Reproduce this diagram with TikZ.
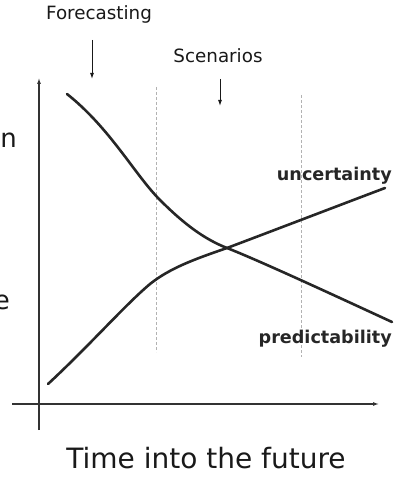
\documentclass[tikz,border=0pt]{standalone}
\usepackage{fontspec}
\setmainfont{DejaVu Sans}
\usetikzlibrary{arrows.meta}
\begin{document}
\begin{tikzpicture}[x=1pt,y=-1pt,
  axis/.style={line width=1.1pt,draw=black!80,-{Latex[length=6pt,width=4pt]}},
  small/.style={font=\fontsize{18.3}{21}\selectfont,text=black!90,inner sep=0pt},
  tag/.style={font=\fontsize{17.6}{21}\bfseries\selectfont,text=black!85,inner sep=0pt},
  curve/.style={line width=2.6pt,draw=black!85,line cap=round},
  guide/.style={draw=black!30,line width=0.8pt,dash pattern=on 3pt off 2pt},
  pointer/.style={line width=1pt,draw=black!90,-{Latex[length=6pt,width=4pt]}}]
\useasboundingbox (0,0) rectangle (405,478);
% axes
\coordinate (yb) at (39,430);
\coordinate (yt) at (39,78);
\coordinate (xl) at (12,404);
\coordinate (xr) at (379,404);
\draw[axis] (yb) -- (yt);
\draw[axis] (xl) -- (xr);
% guides
\coordinate (g1t) at (156,87); \coordinate (g1b) at (156,352);
\coordinate (g2t) at (301,95); \coordinate (g2b) at (301,357);
\draw[guide] (g1t) -- (g1b);
\draw[guide] (g2t) -- (g2b);
% labels
\node[small] (fc) at (99,14) {Forecasting};
\node[small] (sc) at (218,56) {Scenarios};
\coordinate (fca) at (92,40); \coordinate (fcb) at (92,79);
\coordinate (sca) at (220,79); \coordinate (scb) at (220,106);
\draw[pointer] (fca) -- (fcb);
\draw[pointer] (sca) -- (scb);
% curves
\coordinate (p0) at (67,94); \coordinate (p1) at (160,200);
\coordinate (cx) at (227,248); \coordinate (p2) at (392,322);
\coordinate (u0) at (48,384); \coordinate (u1) at (150,284);
\coordinate (u2) at (385,188);
\draw[curve] (p0) .. controls (110,128) and (135,175) .. (p1)
  .. controls (185,225) and (205,239.4) .. (cx)
  .. controls (260,260.9) and (340,298) .. (p2);
\draw[curve] (u0) .. controls (90,345) and (125,305) .. (u1)
  .. controls (170,268) and (195,259) .. (cx)
  .. controls (280,228) and (340,205) .. (u2);
\node[tag,anchor=east] (unc) at (392,176) {uncertainty};
\node[tag,anchor=east] (pred) at (392,339) {predictability};
\node[font=\fontsize{28}{32}\selectfont,text=black!90,inner sep=0pt] (time) at (206,458) {Time into the future};
% cut-off letters at the left edge
\node[font=\fontsize{26}{30}\selectfont,text=black!90,inner sep=0pt,anchor=east] (nl) at (17,140) {n};
\node[font=\fontsize{26}{30}\selectfont,text=black!90,inner sep=0pt,anchor=east] (el) at (10,302) {e};
\end{tikzpicture}
\end{document}
